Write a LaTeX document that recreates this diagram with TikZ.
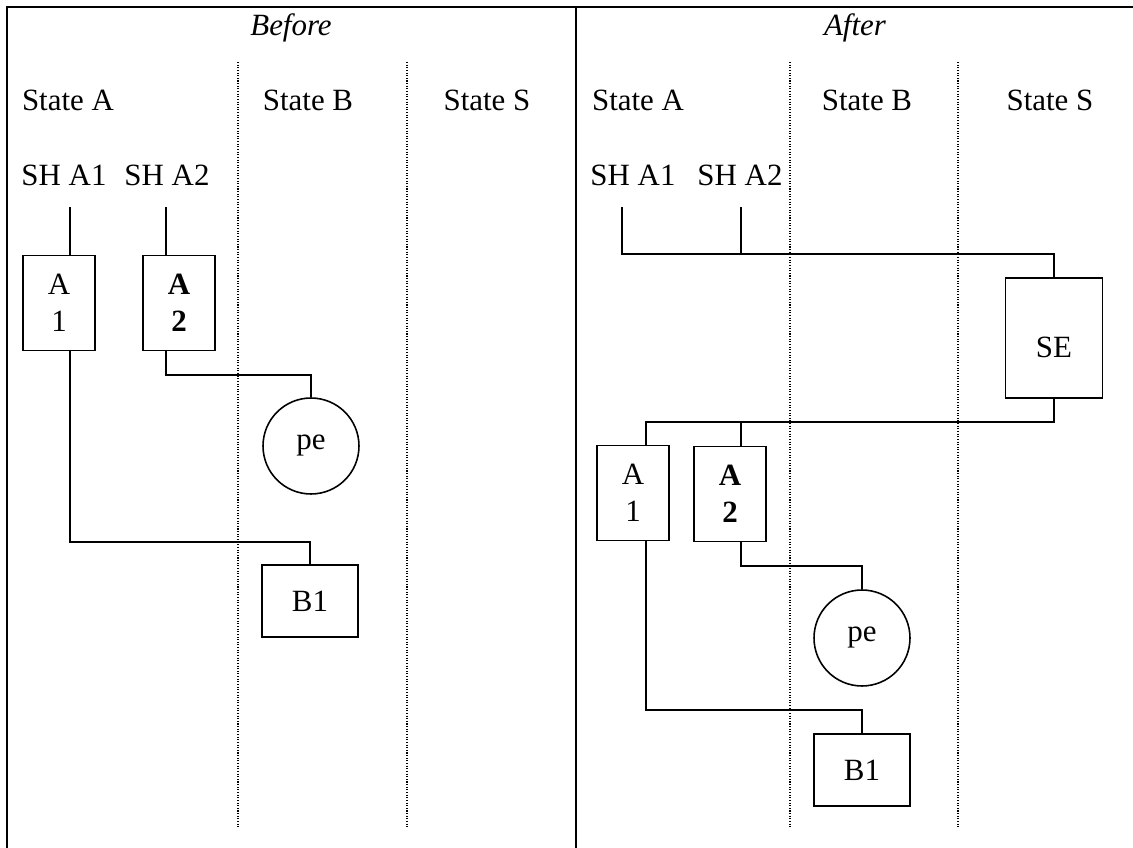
\documentclass[tikz,border=0pt]{standalone}
\usepackage{fontspec}
\setmainfont{Liberation Serif}
\usepackage{tikz}

\begin{document}
\begin{tikzpicture}[x=0.02cm,y=-0.02cm,font=\fontsize{17.6}{21}\selectfont]
\tikzset{statebox/.style={draw,line width=0.9pt,align=center,inner sep=0pt,minimum width=1.44cm,minimum height=1.9cm},
 bubble/.style={draw,circle,line width=0.9pt,inner sep=0pt,minimum size=1.92cm},
 wire/.style={line width=0.8pt},
 lane/.style={line width=0.6pt,dash pattern=on 0.6pt off 0.9pt},
 frame/.style={line width=1.5pt},
 shlabel/.style={inner ysep=12pt}}
\useasboundingbox (0,0) rectangle (1133,848);
% frame and lanes
\draw[frame] (7,848) -- (7,7) -- (1133,7);
\draw[frame] (576,7) -- (576,848);
\foreach \x in {238,407,790,958}
  \draw[lane] (\x,62) -- (\x,828);
\node[font=\fontsize{17.6}{21}\selectfont\itshape] (before) at (291,28) {Before};
\node[font=\fontsize{17.6}{21}\selectfont\itshape] (after) at (855,28) {After};
% before
\node (lsta) at (68,100) {State A};
\node (lstb) at (308,100) {State B};
\node (lsts) at (487,100) {State S};
\node[shlabel] (lsha1) at (64,175) {SH A1};
\node[shlabel] (lsha2) at (167,175) {SH A2};
\node[statebox] (la1) at (59,303) {A\\1};
\node[statebox] (la2) at (179,303) {\textbf{A}\\\textbf{2}};
\node[bubble] (lpe) at (311,446) {pe};
\node[statebox,minimum width=1.92cm,minimum height=1.44cm] (lb1) at (310,601) {B1};
\coordinate (lj1) at (70,542);
\coordinate (lj2) at (166,375);
\draw[wire] (lsha1.south -| lj1) -- (la1.north -| lj1);
\draw[wire] (lsha2.south -| lj2) -- (la2.north -| lj2);
\draw[wire] (la2.south -| lj2) -- (lj2) -| (lpe.north);
\draw[wire] (la1.south -| lj1) -- (lj1) -| (lb1.north);
% after
\node (rsta) at (638,100) {State A};
\node (rstb) at (867,100) {State B};
\node (rsts) at (1050,100) {State S};
\node[shlabel] (rsha1) at (633,175) {SH A1};
\node[shlabel] (rsha2) at (740,175) {SH A2};
\node[statebox,minimum width=1.94cm,minimum height=2.4cm,text height=22pt] (se) at (1054,338) {SE};
\node[statebox] (ra1) at (633,493) {A\\1};
\node[statebox] (ra2) at (730,494) {\textbf{A}\\\textbf{2}};
\node[bubble] (rpe) at (862,638) {pe};
\node[statebox,minimum width=1.92cm,minimum height=1.44cm] (rb1) at (862,770) {B1};
\coordinate (rbus) at (622,254);
\coordinate (rtap) at (741,254);
\coordinate (rj0) at (646,422);
\coordinate (rj1) at (646,710);
\coordinate (rj2) at (741,566);
\draw[wire] (rsha1.south -| rbus) -- (rbus) -| (se.north);
\draw[wire] (rsha2.south -| rtap) -- (rtap);
\draw[wire] (se.south) |- (rj0) -- (ra1.north -| rj0);
\draw[wire] (rj0 -| rtap) -- (ra2.north -| rtap);
\draw[wire] (ra2.south -| rj2) -- (rj2) -| (rpe.north);
\draw[wire] (ra1.south -| rj1) -- (rj1) -| (rb1.north);
\end{tikzpicture}
\end{document}
